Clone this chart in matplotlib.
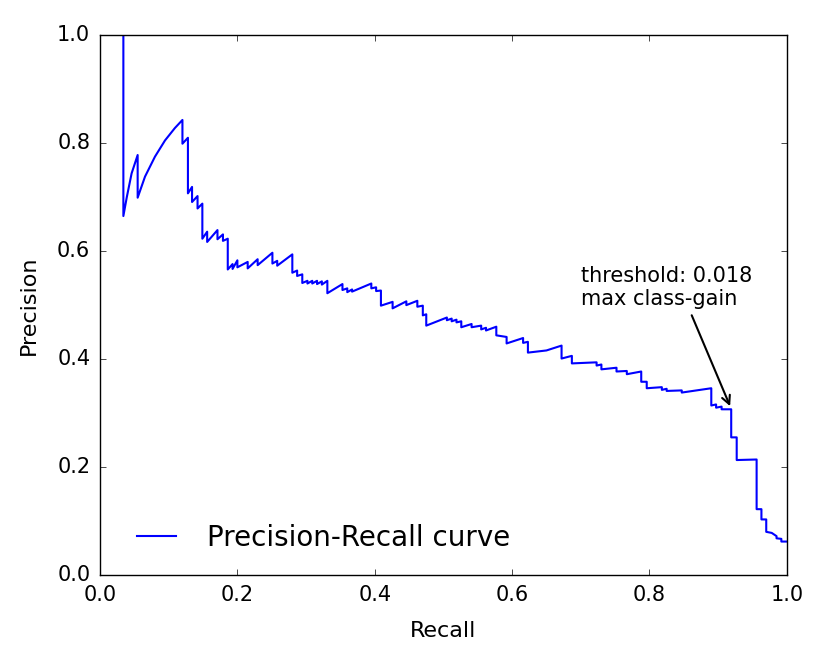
import matplotlib
matplotlib.use("Agg")
import matplotlib.pyplot as plt

pts = [
    (0.034, 1.0), (0.034, 0.665), (0.039, 0.700), (0.046, 0.744), (0.0548, 0.778),
    (0.0548, 0.699), (0.0655, 0.738), (0.080, 0.775), (0.0946, 0.805), (0.109, 0.828),
    (0.120, 0.843), (0.120, 0.799), (0.128, 0.810), (0.128, 0.707), (0.134, 0.719),
    (0.134, 0.691), (0.142, 0.702), (0.142, 0.679), (0.149, 0.688), (0.149, 0.623),
    (0.156, 0.636), (0.156, 0.617), (0.171, 0.639), (0.171, 0.622), (0.179, 0.631),
    (0.179, 0.619), (0.186, 0.623), (0.186, 0.566), (0.193, 0.576), (0.193, 0.567),
    (0.200, 0.583), (0.200, 0.570), (0.215, 0.580), (0.215, 0.568), (0.2295, 0.585),
    (0.2295, 0.574), (0.251, 0.597), (0.251, 0.577), (0.258, 0.582), (0.258, 0.573),
    (0.280, 0.594), (0.280, 0.560), (0.287, 0.564), (0.287, 0.554), (0.2945, 0.557),
    (0.2945, 0.541), (0.302, 0.545), (0.302, 0.540), (0.309, 0.545), (0.309, 0.540),
    (0.316, 0.545), (0.316, 0.539), (0.323, 0.544), (0.323, 0.538), (0.331, 0.545),
    (0.331, 0.522), (0.353, 0.539), (0.353, 0.528), (0.360, 0.531), (0.360, 0.524),
    (0.367, 0.529), (0.367, 0.525), (0.395, 0.540), (0.395, 0.531), (0.402, 0.533),
    (0.402, 0.526), (0.409, 0.527), (0.409, 0.499), (0.426, 0.506), (0.426, 0.494),
    (0.446, 0.507), (0.446, 0.500), (0.462, 0.508), (0.462, 0.497), (0.470, 0.499),
    (0.470, 0.481), (0.475, 0.483), (0.475, 0.462), (0.505, 0.477), (0.505, 0.472),
    (0.512, 0.475), (0.512, 0.470), (0.519, 0.473), (0.519, 0.468), (0.526, 0.470),
    (0.526, 0.459), (0.541, 0.465), (0.541, 0.459), (0.555, 0.462), (0.555, 0.455),
    (0.562, 0.458), (0.562, 0.453), (0.577, 0.460), (0.577, 0.444), (0.592, 0.441),
    (0.592, 0.429), (0.616, 0.439), (0.616, 0.430), (0.623, 0.432), (0.623, 0.412),
    (0.650, 0.416), (0.672, 0.425), (0.672, 0.401), (0.687, 0.406), (0.687, 0.392),
    (0.705, 0.393), (0.723, 0.394), (0.723, 0.388), (0.730, 0.390), (0.730, 0.381),
    (0.752, 0.384), (0.752, 0.377), (0.767, 0.378), (0.767, 0.372), (0.788, 0.377),
    (0.788, 0.358), (0.796, 0.358), (0.796, 0.346), (0.818, 0.348), (0.818, 0.343),
    (0.825, 0.345), (0.825, 0.341), (0.847, 0.342), (0.847, 0.338), (0.890, 0.346),
    (0.890, 0.314), (0.897, 0.316), (0.897, 0.310), (0.905, 0.312), (0.905, 0.307),
    (0.919, 0.307), (0.919, 0.255), (0.927, 0.255), (0.927, 0.213), (0.956, 0.214),
    (0.956, 0.122), (0.963, 0.122), (0.963, 0.103), (0.970, 0.103), (0.970, 0.080),
    (0.978, 0.078), (0.985, 0.072), (0.985, 0.068), (0.992, 0.067), (0.992, 0.062),
    (1.0, 0.062),
]
recall = [p[0] for p in pts]
precision = [p[1] for p in pts]

x_ticks = [0.0, 0.2, 0.4, 0.6, 0.8, 1.0]
y_ticks = [0.0, 0.2, 0.4, 0.6, 0.8, 1.0]
annot_text = "threshold: 0.018\nmax class-gain"
annot_xy = (0.919, 0.308)
annot_xytext = (0.70, 0.492)

plt.style.use("classic")
plt.rcParams["font.family"] = ["DejaVu Sans"]
fig = plt.figure(figsize=(8.3, 6.64), dpi=100, facecolor="white")
ax = fig.add_axes([0.1205, 0.134, 0.8275, 0.813])
ax.plot(recall, precision, color="blue", lw=1.5, label="Precision-Recall curve")
ax.set_xlim(0, 1)
ax.set_ylim(0, 1)
ax.set_xticks(x_ticks)
ax.set_yticks(y_ticks)
ax.tick_params(labelsize=15, pad=7)
ax.set_xlabel("Recall", fontsize=16, labelpad=12)
ax.set_ylabel("Precision", fontsize=16, labelpad=13)
ax.annotate(annot_text, xy=annot_xy, xytext=annot_xytext, fontsize=15,
            ha="left", va="bottom",
            arrowprops=dict(arrowstyle="->", color="black", lw=1.5,
                            relpos=(0.58, 0.5)))
ax.legend(loc="lower left", frameon=False, fontsize=20,
          bbox_to_anchor=(0.006, -0.004))
fig.savefig("out.png", dpi=100, facecolor="white")
